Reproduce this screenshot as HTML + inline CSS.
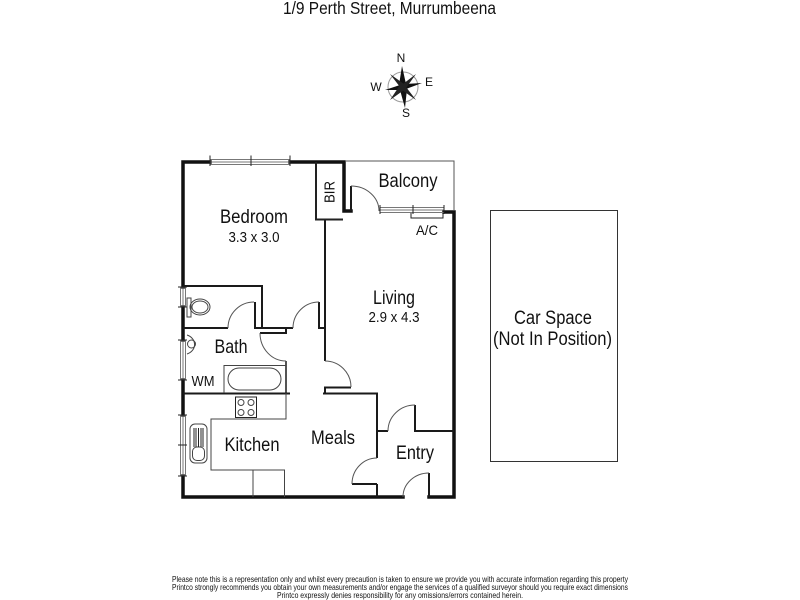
<!DOCTYPE html>
<html><head><meta charset="utf-8"><style>
html,body{margin:0;padding:0;background:#fff;width:800px;height:600px;overflow:hidden}
svg{display:block}
text{font-family:"Liberation Sans",sans-serif;fill:#111;text-anchor:middle}
</style></head><body>
<svg width="800" height="600" viewBox="0 0 800 600" xmlns="http://www.w3.org/2000/svg">
<g style="filter:blur(0.35px)">
<text x="389.500" y="14" font-size="17.500" textLength="213" lengthAdjust="spacingAndGlyphs">1/9 Perth Street, Murrumbeena</text>
<!-- compass -->
<text x="401" y="62" font-size="12">N</text><text x="376" y="91" font-size="12">W</text><text x="429" y="86" font-size="12">E</text><text x="406" y="117" font-size="12">S</text>
<circle cx="403" cy="87" r="15" fill="none" stroke="#999" stroke-width="1"/>
<path d="M402 66L406 84 403 87 399 85ZM405 108L400 90 403 87 407 89ZM385 90L400 85 403 87 401 90ZM422 83L406 89 403 87 405 84Z" fill="#111"/>
<path d="M390 74L404 84 403 87 400 87ZM416 74L406 88 403 87 403 84ZM390 100L400 85 403 87 404 90ZM416 100L402 90 403 87 406 87Z" fill="#222"/>
<!-- thick walls -->
<g fill="none" stroke="#111" stroke-width="3.500" stroke-linecap="square">
<path d="M183 287V162H210M290 162H344V211H351"/>
<path d="M183 307V340M183 380V415M183 476V497H403M429 497H454V212H444"/>
</g>
<!-- medium walls -->
<g fill="none" stroke="#1a1a1a" stroke-width="2">
<path d="M183 286H262V328H293M228 328H183M255 302V328H262M319 302V328H325V220M325 220V361M260 333H286V328"/>
<path d="M183 393.500H290M323 393.500H377V458M377 484V497M352 484H377M325 393V387.500H351M377 431H388M415 405V431H454M429 473V497M351 186V211"/>
<path d="M286 361V393" stroke-width="1.500"/>
</g>
<!-- BIR box -->
<path d="M316 162V219.500H343" fill="none" stroke="#222" stroke-width="2"/>
<!-- balcony -->
<path d="M345 161H454V210" fill="none" stroke="#555" stroke-width="1"/>
<!-- door arcs -->
<g fill="none" stroke="#555" stroke-width="1">
<path d="M351 186A28 25 0 0 1 379 211"/>
<path d="M228 328A26 26 0 0 1 254 302"/>
<path d="M293 328A26 26 0 0 1 319 302"/>
<path d="M260 333A26 28 0 0 0 286 361"/>
<path d="M325 361A26 26 0 0 1 351 387"/>
<path d="M388 431A27 26 0 0 1 415 405"/>
<path d="M377 458A25 26 0 0 0 352 484"/>
<path d="M403 497A26 24 0 0 1 429 473"/>
</g>
<!-- windows -->
<g fill="none" stroke="#777" stroke-width="1">
<path d="M210 159.500H290M210 162H290M210 164.500H290"/>
<path d="M380 207.500H444M380 210H444M380 212.500H444"/>
<path d="M180.500 287V307M183 287V307M185.500 287V307"/>
<path d="M180.500 340V380M183 340V380M185.500 340V380"/>
<path d="M180.500 415V476M183 415V476M185.500 415V476"/>
</g>
<g fill="none" stroke="#222" stroke-width="1">
<path d="M210 155.500V166M251 155.500V166M290 155.500V166"/>
<path d="M380 205V214M413 205V214M444 205V214M411 213V218H443V213" />
<path d="M178 287H187M178 307H187M178 340H187M178 380H187M178 415H187M178 445H187M178 476H187"/>
</g>
<!-- toilet -->
<g fill="none" stroke="#444" stroke-width="1">
<rect x="187" y="298" width="4" height="19"/>
<ellipse cx="200" cy="307" rx="10" ry="8" />
<ellipse cx="200" cy="307" rx="8" ry="6" />
<path d="M187 335A11 10 0 0 1 187 354"/>
<circle cx="191.500" cy="344" r="4"/>
<!-- tub -->
<path d="M224 393V365.500H286"/>
<rect x="228" y="368" width="53" height="22" rx="11"/>
</g>
<!-- kitchen -->
<g fill="none" stroke="#444" stroke-width="1">
<path d="M286 393V419H211V470H284.500V497M253 470V497"/>
<rect x="235.500" y="397" width="21" height="20.500" stroke="#222"/>
<circle cx="241" cy="402.500" r="3"/><circle cx="251" cy="402.500" r="3"/><circle cx="241" cy="412.500" r="3"/><circle cx="251" cy="412.500" r="3"/>
<rect x="190" y="424" width="17" height="39" rx="5"/>
<rect x="192.500" y="447" width="12" height="13.500" rx="4.500"/>
<path d="M194 428V447M196 428V447M198.500 428V447M201 428V447M203 428V447" stroke="#222"/>
</g>
<!-- labels -->
<text x="254" y="223" font-size="19.500" textLength="68" lengthAdjust="spacingAndGlyphs">Bedroom</text>
<text x="254" y="242" font-size="14.500" textLength="51" lengthAdjust="spacingAndGlyphs">3.3 x 3.0</text>
<text transform="translate(334.500 192) rotate(-90)" font-size="15" textLength="22" lengthAdjust="spacingAndGlyphs">BIR</text>
<text x="408" y="187" font-size="19.500" textLength="59" lengthAdjust="spacingAndGlyphs">Balcony</text>
<text x="427" y="235" font-size="14" textLength="22" lengthAdjust="spacingAndGlyphs">A/C</text>
<text x="394" y="304" font-size="19.500" textLength="42" lengthAdjust="spacingAndGlyphs">Living</text>
<text x="394" y="322" font-size="14.500" textLength="51" lengthAdjust="spacingAndGlyphs">2.9 x 4.3</text>
<text x="231" y="353" font-size="19.500" textLength="33" lengthAdjust="spacingAndGlyphs">Bath</text>
<text x="203" y="386" font-size="15" textLength="23" lengthAdjust="spacingAndGlyphs">WM</text>
<text x="252" y="451" font-size="19.500" textLength="55" lengthAdjust="spacingAndGlyphs">Kitchen</text>
<text x="333" y="444" font-size="19.500" textLength="44" lengthAdjust="spacingAndGlyphs">Meals</text>
<text x="415" y="459" font-size="19.500" textLength="38" lengthAdjust="spacingAndGlyphs">Entry</text>
<!-- car space -->
<rect x="490.500" y="210.500" width="127" height="251" fill="none" stroke="#333" stroke-width="1"/>
<text x="553" y="324" font-size="19" textLength="78" lengthAdjust="spacingAndGlyphs">Car Space</text>
<text x="552.500" y="345" font-size="19" textLength="119" lengthAdjust="spacingAndGlyphs">(Not In Position)</text>
<!-- footer -->
<text x="400" y="582" font-size="8.500" textLength="456" lengthAdjust="spacingAndGlyphs">Please note this is a representation only and whilst every precaution is taken to ensure we provide you with accurate information regarding this property</text>
<text x="400" y="590" font-size="8.500" textLength="456" lengthAdjust="spacingAndGlyphs">Printco strongly recommends you obtain your own measurements and/or engage the services of a qualified surveyor should you require exact dimensions</text>
<text x="400" y="598" font-size="8.500" textLength="246" lengthAdjust="spacingAndGlyphs">Printco expressly denies responsibility for any omissions/errors contained herein.</text>
</g>
<rect x="0" y="570" width="172" height="30" fill="#fff"/>
<rect x="628" y="570" width="172" height="30" fill="#fff"/>
</svg>
</body></html>
